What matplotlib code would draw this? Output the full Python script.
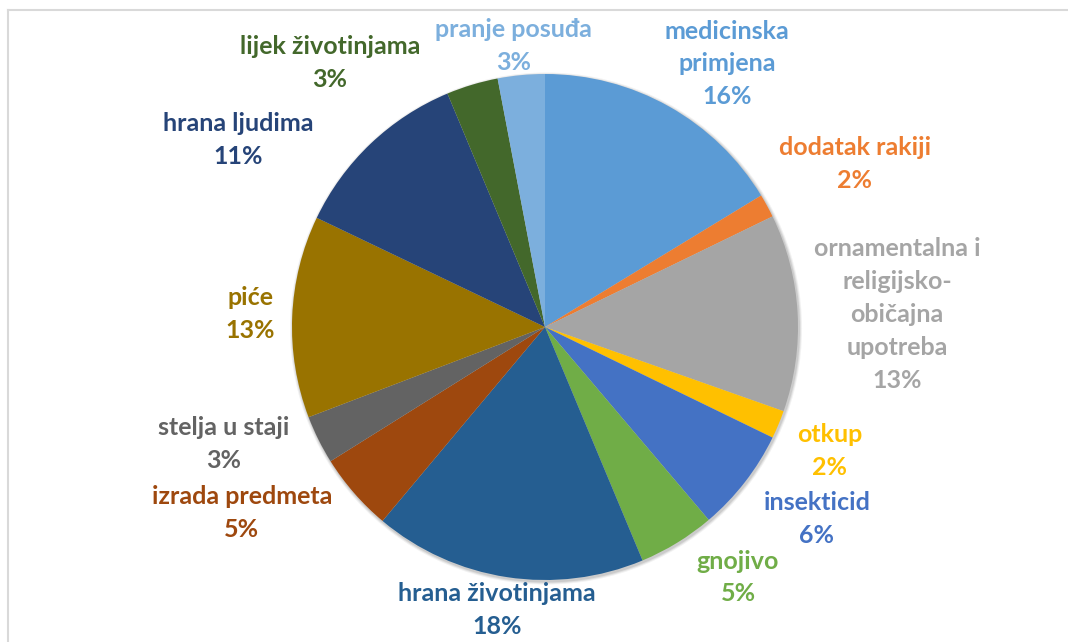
import matplotlib.pyplot as plt
from matplotlib.lines import Line2D
import numpy as np

# shares (clockwise from 12 o'clock)
categories = ["medicinska\nprimjena", "dodatak rakiji", "ornamentalna i\nreligijsko-\nobičajna\nupotreba",
              "otkup", "insekticid", "gnojivo", "hrana životinjama", "izrada predmeta",
              "stelja u staji", "piće", "hrana ljudima", "lijek životinjama", "pranje posuđa"]
shares = [16.3, 1.5, 12.6, 1.8, 6.6, 4.9, 17.4, 5.0, 3.1, 12.9, 11.6, 3.3, 3.0]
pct_labels = ["16%", "2%", "13%", "2%", "6%", "5%", "18%", "5%", "3%", "13%", "11%", "3%", "3%"]
colors = ["#5B9BD5", "#ED7D31", "#A5A5A5", "#FFC000", "#4472C4", "#70AD47", "#255E91",
          "#9E480E", "#636363", "#997300", "#264478", "#43682B", "#7CAFDD"]

# label anchor points in pie-radius units
label_xy = [(0.72, 1.04), (1.225, 0.644), (1.392, 0.05), (1.126, -0.49), (1.075, -0.76),
            (0.763, -0.99), (-0.19, -1.12), (-1.198, -0.735), (-1.269, -0.462),
            (-1.166, 0.05), (-1.213, 0.739), (-0.85, 1.043), (-0.123, 1.111)]

W, H = 1068, 642
cx, cy, R = 545, 327, 253

fig = plt.figure(figsize=(W / 100, H / 100), dpi=100)
ax = fig.add_axes([0, 0, 1, 1])

# soft shadow behind the pie
for k, a in zip([1.012, 1.008, 1.004], [0.05, 0.07, 0.09]):
    ax.add_patch(plt.Circle((0.004, -0.006), k, color="black", alpha=a, lw=0))

ax.pie(shares, colors=colors, startangle=90, counterclock=False, radius=1,
       wedgeprops=dict(linewidth=0))

for name, pct, (x, y), c in zip(categories, pct_labels, label_xy, colors):
    ax.text(x, y, name + "\n" + pct, ha="center", va="center", color=c,
            fontsize=18, fontweight="bold", family="Lato", linespacing=1.52)

ax.set_aspect("auto")
ax.set_xlim(-cx / R, (W - cx) / R)
ax.set_ylim(-(H - cy) / R, cy / R)
ax.axis("off")

# chart frame (only top and left edges visible)
fig.add_artist(Line2D([7.5 / W, 1], [1 - 9.5 / H, 1 - 9.5 / H], color="#D9D9D9", lw=1.5))
fig.add_artist(Line2D([7.5 / W, 7.5 / W], [0, 1 - 9.5 / H], color="#D9D9D9", lw=1.5))

fig.savefig("out.png", dpi=100, facecolor="white")
